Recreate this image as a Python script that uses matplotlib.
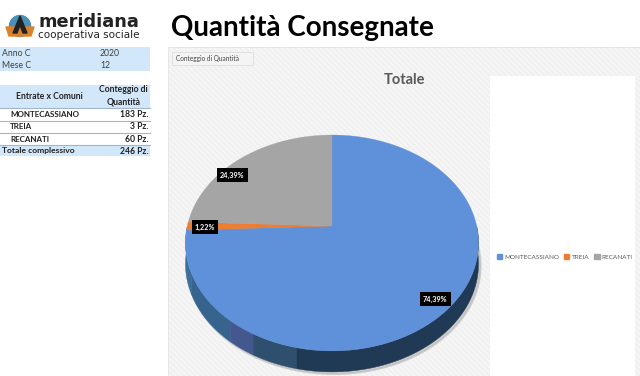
import numpy as np
import matplotlib
matplotlib.use("Agg")
import matplotlib.pyplot as plt
from matplotlib.patches import Rectangle, Polygon, Circle, Patch

plt.rcParams['font.family'] = ['Lato', 'DejaVu Sans']
plt.rcParams['hatch.linewidth'] = 0.4

# dati
comuni = ["MONTECASSIANO", "TREIA", "RECANATI"]
quantita = [183, 3, 60]
colori = ["#5f91da", "#ed7d31", "#a5a5a5"]
filtri = [("Anno C", "2020"), ("Mese C", "12")]
totale = 246

# geometria della torta in prospettiva (pixel)
CX, CY = 332, 226
K, A, B = 0.157, 144.7, 105.3
DEPTH = 21


def warp(xy):
    """Proietta il cerchio unitario sul piano inclinato"""
    w = 1 + K * xy[:, 1]
    return np.column_stack([CX + A * xy[:, 0] / w, CY - B * xy[:, 1] / w])


fig = plt.figure(figsize=(6.4, 3.76), dpi=100)
ax = fig.add_axes([0, 0, 1, 1])
ax.set_xlim(0, 640)
ax.set_ylim(376, 0)
ax.axis("off")

# titolo
ax.text(171, 28, "Quantità Consegnate", fontsize=20, fontweight="bold", color="black", va="center")

# logo
ax.add_patch(Circle((20, 26), 10.5, color="#4a90b8", zorder=2))
ax.add_patch(Polygon([[6, 27], [34, 27], [31, 36], [9, 36]], color="#d9822b", zorder=3))
ax.add_patch(Polygon([[20, 16], [13, 33], [17, 33], [20, 25], [23, 33], [27, 33]], color="#222222", zorder=4))
ax.text(38, 22, "meridiana", fontsize=12.8, fontweight="bold", family="DejaVu Sans", color="#222222", va="center")
ax.text(38, 35.5, "cooperativa sociale", fontsize=7.5, family="DejaVu Sans", color="#222222", va="center")

# filtri
ax.add_patch(Rectangle((0, 47), 150, 24, color="#d3e7fa", lw=0))
for i, (nome, val) in enumerate(filtri):
    ax.text(2, 54 + i * 12, nome, fontsize=6.2, color="#404040", va="center")
    ax.text(100, 54 + i * 12, val, fontsize=6.2, color="#404040", va="center")

# tabella
ax.add_patch(Rectangle((0, 85), 150, 23, color="#d3e7fa", lw=0))
ax.add_patch(Rectangle((0, 146), 150, 10, color="#d3e7fa", lw=0))
ax.text(49, 96.5, "Entrate x Comuni", fontsize=6.2, fontweight="bold", color="#222222", ha="center", va="center")
ax.text(148, 90, "Conteggio di", fontsize=6.2, fontweight="bold", color="#222222", ha="right", va="center")
ax.text(141, 102, "Quantità", fontsize=6.2, fontweight="bold", color="#222222", ha="right", va="center")
for y in [108, 121, 133, 145]:
    ax.plot([0, 150], [y, y], color="#9fb6cc", lw=0.8)
for i, (c, q) in enumerate(zip(comuni, quantita)):
    ax.text(10, 114.5 + i * 12.3, c, fontsize=5.8, fontweight="bold", color="#222222", va="center")
    ax.text(148, 114.5 + i * 12.3, f"{q} Pz.", fontsize=6.2, fontweight="bold", color="#222222", ha="right", va="center")
ax.text(2, 151, "Totale complessivo", fontsize=6.1, fontweight="bold", color="#222222", va="center")
ax.text(148, 151, f"{totale} Pz.", fontsize=6.2, fontweight="bold", color="#222222", ha="right", va="center")

# sfondo del grafico
ax.add_patch(Rectangle((168, 47), 472, 329, facecolor="#f1f1f1", edgecolor="#ffffff", hatch="\\\\\\\\\\\\", lw=0))
ax.add_patch(Rectangle((168, 47), 472, 329, facecolor="none", edgecolor="#e4e4e4", lw=0.6))
ax.add_patch(Rectangle((490, 76), 145, 300, color="white", lw=0))
ax.add_patch(Rectangle((172, 52), 81, 13, facecolor="#f4f4f4", edgecolor="#dddddd", lw=0.6))
ax.text(176, 58.5, "Conteggio di Quantità", fontsize=4.7, color="#444444", va="center")
ax.text(404, 80, "Totale", fontsize=10.5, fontweight="bold", color="#595959", ha="center", va="center")

# torta: gli angoli vengono da pie, poi gli spicchi sono proiettati
ax_pie = fig.add_axes([0, 0, 0.01, 0.01])
wedges, _ = ax_pie.pie(quantita, colors=colori, startangle=90, counterclock=False)
ax_pie.set_visible(False)

t = np.radians(np.linspace(0, 360, 361))
rim = warp(np.column_stack([np.cos(t), np.sin(t)]))

# ombra e bordo laterale
ax.add_patch(Polygon(rim + [2, DEPTH + 2], color="#bdbdbd", alpha=0.7, lw=1.5, zorder=4))
rim_breaks = [180, 205, 232, 242, 258, 360]
rim_colors = ["#3d6f9a", "#37648f", "#44588f", "#2f4f6e", "#203a55"]
for a0, a1, col in zip(rim_breaks[:-1], rim_breaks[1:], rim_colors):
    a = np.radians(np.arange(a0, a1 + 1))
    edge = warp(np.column_stack([np.cos(a), np.sin(a)]))
    ax.add_patch(Polygon(np.vstack([edge, edge[::-1] + [0, DEPTH]]), color=col, lw=0.3, zorder=5))

for w, col in zip(wedges, colori):
    th = np.radians(np.linspace(w.theta1, w.theta2, 200))
    pts = np.vstack([[0, 0], np.column_stack([np.cos(th), np.sin(th)])])
    ax.add_patch(Polygon(warp(pts), facecolor=col, edgecolor=col, lw=0.2, zorder=6))

# etichette percentuali
label_pos = [(435, 299), (205, 227), (232, 175)]
for q, (x, y) in zip(quantita, label_pos):
    txt = f"{q / totale * 100:.2f}%".replace(".", ",")
    ax.text(x, y, txt, fontsize=5.2, fontweight="bold", color="white", ha="center", va="center", zorder=8,
            bbox=dict(boxstyle="square,pad=0.45", fc="black", ec="none"))

# legenda
handles = [Patch(color=c, label=n) for c, n in zip(colori, comuni)]
leg = ax.legend(handles=handles, ncols=3, loc="center left", bbox_to_anchor=(497 / 640, 1 - 257 / 376),
                fontsize=4.6, frameon=False, handlelength=0.8, handleheight=0.8, handletextpad=0.35,
                columnspacing=0.8, borderpad=0, borderaxespad=0, labelcolor="#595959")

fig.savefig("out.png", dpi=100)
